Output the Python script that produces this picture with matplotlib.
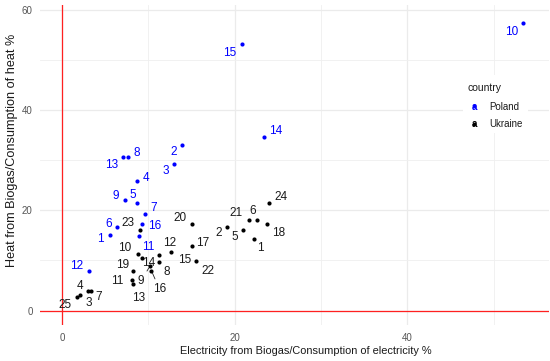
import matplotlib
matplotlib.use("Agg")
import matplotlib.pyplot as plt
from matplotlib.patches import Rectangle

plt.rcParams['font.family'] = ['Liberation Sans', 'DejaVu Sans']

# ---- data ----
poland_ids = ["1", "2", "3", "4", "5", "6", "7", "8", "9", "10", "11", "12", "13", "14", "15", "16"]
poland_elec = [5.53, 13.87, 13.01, 8.66, 8.69, 6.41, 9.62, 7.61, 7.30, 53.38, 8.89, 3.09, 7.10, 23.37, 20.82, 9.24]
poland_heat = [15.14, 33.07, 29.16, 25.84, 21.51, 16.61, 19.26, 30.56, 22.11, 57.25, 14.82, 7.85, 30.56, 34.66, 53.07, 17.21]

ukraine_ids = [str(i) for i in range(1, 26)]
ukraine_elec = [22.20, 19.15, 3.01, 2.09, 21.00, 22.60, 3.30, 11.27, 10.20, 8.81, 8.11, 11.27, 8.19,
                9.24, 12.63, 10.35, 15.10, 23.72, 8.26, 15.03, 21.63, 15.53, 9.07, 24.02, 1.68]
ukraine_heat = [14.20, 16.70, 3.86, 3.13, 16.00, 18.10, 3.92, 9.76, 8.96, 11.30, 6.12, 11.16, 5.26,
                10.44, 11.69, 7.97, 12.95, 17.27, 7.97, 17.21, 18.13, 9.96, 16.08, 21.51, 2.73]

# label offsets in pixels (dx right, dy down) -- placement only
poland_off = [(-9.7, 4.3), (-8.4, 7), (-8.3, 6.4), (9, -3.3), (-4.3, -7.7), (-9, -3.3), (8.7, -5.7),
              (8.6, -4), (-9.3, -4), (-11.7, 8.4), (9.6, 10.4), (-12, -5.6), (-11.6, 8), (11.6, -5.7),
              (-11.7, 8.4), (12.6, 1.4)]
ukraine_off = [(6.3, 9), (-9, 6), (0.3, 11.4), (0, -9.3), (-9, 7), (-4, -8.7), (7.8, 5.7), (7.4, 10),
               (-9, 15.3), (-13, -5.7), (-14.7, 1), (10, -12), (5.6, 13.4), (6.6, 5), (14, 8), (8, 18.3),
               (10.4, -3), (11.6, 8.7), (-10.6, -5.7), (-11.7, -6), (-12.7, -6.4), (12.3, 10), (-12, -7.3),
               (11.4, -6), (-11.5, 8)]
ukraine_segment = ["9", "16"]

W, H = 550, 361
fig = plt.figure(figsize=(W / 100, H / 100), dpi=100)
ax_l, ax_r, ax_t, ax_b = 39.5, 549, 5, 325
ax = fig.add_axes([ax_l / W, (H - ax_b) / H, (ax_r - ax_l) / W, (ax_b - ax_t) / H])
ax.set_xlim(-2.61, 56.4)
ax.set_ylim(-2.85, 60.9)
for s in ax.spines.values():
    s.set_visible(False)

ax.set_xticks([0, 20, 40])
ax.set_yticks([0, 20, 40, 60])
ax.set_xticks([10, 30, 50], minor=True)
ax.set_yticks([10, 30, 50], minor=True)
ax.grid(True, which='major', color='#EBEBEB', lw=0.9, zorder=0)
ax.grid(True, which='minor', color='#EFEFEF', lw=0.6, zorder=0)
ax.tick_params(which='both', length=0)
ax.tick_params(axis='x', pad=5.5, labelsize=7, labelcolor='#555555')
ax.tick_params(axis='y', pad=5, labelsize=7, labelcolor='#555555')
ax.set_axisbelow(True)

ax.axhline(0, color='#FF2020', lw=0.9, zorder=1)
ax.axvline(0, color='#FF2020', lw=0.9, zorder=1)

ax.scatter(poland_elec, poland_heat, s=9, color='#0000FF', zorder=3, linewidths=0)
ax.scatter(ukraine_elec, ukraine_heat, s=9, color='black', zorder=3, linewidths=0)

for lab, x, y, (dx, dy) in zip(poland_ids, poland_elec, poland_heat, poland_off):
    ax.annotate(lab, (x, y), xytext=(dx, -dy), textcoords='offset pixels', ha='center', va='center',
                fontsize=8.5, color='#0000FF', zorder=4)
for lab, x, y, (dx, dy) in zip(ukraine_ids, ukraine_elec, ukraine_heat, ukraine_off):
    kw = {}
    if lab in ukraine_segment:
        kw['arrowprops'] = dict(arrowstyle='-', color='#222222', lw=0.6, shrinkA=1, shrinkB=2)
    ax.annotate(lab, (x, y), xytext=(dx, -dy), textcoords='offset pixels', ha='center', va='center',
                fontsize=8.5, color='#1a1a1a', zorder=4, **kw)

# legend (inside panel)
def fx(px):
    return (px - ax_l) / (ax_r - ax_l)

def fy(py):
    return (ax_b - py) / (ax_b - ax_t)

ax.add_patch(Rectangle((fx(463), fy(133)), fx(528) - fx(463), fy(75) - fy(133), transform=ax.transAxes,
                       facecolor='white', edgecolor='none', zorder=2))
ax.text(fx(468), fy(88.3), "country", transform=ax.transAxes, ha='left', va='center', fontsize=7.5,
        color='#1a1a1a', zorder=5)
legend_names = ["Poland", "Ukraine"]
legend_colors = ['#0000FF', 'black']
for i, (name, col) in enumerate(zip(legend_names, legend_colors)):
    py = 106.5 + i * 17.8
    ax.text(fx(474.3), fy(py), "a", transform=ax.transAxes, ha='center', va='center', fontsize=7,
            fontweight='bold', color=col, zorder=5)
    ax.scatter([fx(474.3)], [fy(py - 0.5)], transform=ax.transAxes, s=7, color=col, zorder=6, linewidths=0)
    ax.text(fx(489.3), fy(py), name, transform=ax.transAxes, ha='left', va='center', fontsize=7,
            color='#1a1a1a', zorder=5)

fig.text(306 / W, 1 - 351 / H, "Electricity from Biogas/Consumption of electricity %",
         ha='center', va='center', fontsize=7.9, color='#1a1a1a')
fig.text(11.7 / W, 1 - 150 / H, "Heat from Biogas/Consumption of heat %", ha='center', va='center',
         rotation=90, fontsize=9.1, color='#1a1a1a')

fig.savefig("out.png", dpi=100)
